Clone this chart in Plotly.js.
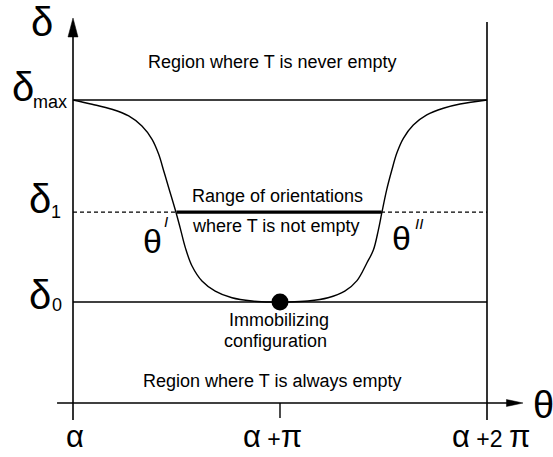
<!DOCTYPE html>
<html>
<head>
<meta charset="utf-8">
<script src="https://cdn.plot.ly/plotly-3.0.1.min.js"></script>
<style>
  html, body { margin: 0; padding: 0; background: #ffffff; }
  #chart { width: 553px; height: 457px; }
</style>
</head>
<body>
<div id="chart"></div>
<script>
// Orientation axis in units of pi (alpha = 0, alpha + 2pi = 2);
// delta normalised so that delta_0 = 0 and delta_max = 1.
const thetaPi = [0, 0.092, 0.188, 0.269, 0.333, 0.382, 0.414, 0.438, 0.462, 0.498,
                 0.518, 0.543, 0.575, 0.623, 0.687, 0.768, 0.865, 0.961, 1.0,
                 1.039, 1.135, 1.232, 1.313, 1.372, 1.419, 1.451, 1.475, 1.492,
                 1.515, 1.540, 1.564, 1.596, 1.644, 1.709, 1.789, 1.870, 2.0];
const deltaCurve = [1.0, 0.979, 0.954, 0.921, 0.871, 0.805, 0.731, 0.650, 0.567, 0.442,
                    0.366, 0.268, 0.178, 0.104, 0.054, 0.021, 0.005, 0.0, 0.0,
                    0.0, 0.005, 0.021, 0.054, 0.106, 0.192, 0.257, 0.356, 0.442,
                    0.554, 0.652, 0.736, 0.810, 0.876, 0.926, 0.959, 0.980, 1.0];

// Reference levels of delta
const levelNames = ["0", "1", "max"];
const levelValues = [0, 0.445, 1];

// Orientations bounding the range where T is not empty
const thetaBounds = [0.50, 1.49];
const thetaBoundNames = ["I", "II"];

// Immobilizing configuration (minimum of the curve)
const immobTheta = [1.0];
const immobDelta = [0.0];

// Orientation tick labels
const tickVals = [0, 1, 2];
const tickLabels = ["α", "α +π", "α +2 π"];

const BLACK = "#000000";
const GREEK = 'Liberation Sans, Arial, sans-serif';
const TEXT_SIZE = 18;

// Greek letters drawn large, the rest at a slightly larger text size
function tickHtml(label) {
  return label.split("").map(function (ch) {
    if (/[α-ωΑ-Ω]/.test(ch)) return '<span style="font-size:31px">' + ch + '</span>';
    return '<span style="font-size:23px">' + ch + '</span>';
  }).join("");
}

const xLo = 0, xHi = 2;
const yAxis = -0.5;       // level of the orientation axis
const yBottom = -0.584;   // lower end of the vertical guides
const yTop = 1.406;       // tip of the delta arrow
const yRightTop = 1.386;  // top of the right-hand guide
const xArrow = 2.174;     // tip of the theta arrow

const shapes = [];
function seg(x0, y0, x1, y1, width, dash) {
  shapes.push({type: "line", xref: "x", yref: "y", x0: x0, y0: y0, x1: x1, y1: y1,
               line: {color: BLACK, width: width, dash: dash || "solid"}});
}

// axes
seg(xLo, yBottom, xLo, 1.317, 1.6);
seg(-0.077, yAxis, 2.097, yAxis, 1.6);
seg(xHi, yBottom, xHi, yRightTop, 1.6);
seg(tickVals[1], yAxis, tickVals[1], -0.574, 1.4);
// arrow heads
shapes.push({type: "path", xref: "x", yref: "y",
  path: "M " + xLo + " " + yTop + " L " + (xLo - 0.0242) + " 1.312 L " + (xLo + 0.0242) + " 1.312 Z",
  fillcolor: BLACK, line: {color: BLACK, width: 0.5}});
shapes.push({type: "path", xref: "x", yref: "y",
  path: "M " + xArrow + " " + yAxis + " L 2.094 " + (yAxis + 0.0173) + " L 2.094 " + (yAxis - 0.0173) + " Z",
  fillcolor: BLACK, line: {color: BLACK, width: 0.5}});

// delta levels
seg(xLo, levelValues[0], xHi, levelValues[0], 1.3);
seg(xLo, levelValues[1], xHi, levelValues[1], 1.1, "4px,3px");
seg(xLo, levelValues[2], xHi, levelValues[2], 1.3);
// range of orientations where T is not empty
seg(thetaBounds[0], levelValues[1], thetaBounds[1], levelValues[1], 3.4);

const traces = [
  {x: thetaPi, y: deltaCurve, type: "scatter", mode: "lines",
   line: {color: BLACK, width: 1.4, shape: "spline", smoothing: 1},
   hoverinfo: "skip", showlegend: false},
  {x: immobTheta, y: immobDelta, type: "scatter", mode: "markers",
   marker: {color: BLACK, size: 17}, hoverinfo: "skip", showlegend: false}
];

function note(x, y, text, size, extra) {
  const a = {x: x, y: y, xref: "x", yref: "y", text: text, showarrow: false,
             xanchor: "center", yanchor: "middle",
             font: {size: size, color: BLACK}};
  return Object.assign(a, extra || {});
}
function greek(x, y, ch, size) {
  return note(x, y, ch, size, {font: {size: size, color: BLACK, family: GREEK}});
}

const annotations = [
  note(0.961, 1.188, "Region where T is never empty", TEXT_SIZE),
  note(0.988, 0.525, "Range of orientations", TEXT_SIZE),
  note(0.976, 0.376, "where T is not empty", TEXT_SIZE),
  note(0.995, -0.089, "Immobilizing", TEXT_SIZE),
  note(0.976, -0.193, "configuration", TEXT_SIZE),
  note(0.961, -0.391, "Region where T is always empty", TEXT_SIZE),

  // delta axis title and levels
  greek(-0.150, 1.385, "δ", 40),
  greek(-0.2415, 1.065, "δ", 40),
  note(-0.111, 0.990, levelNames[2], TEXT_SIZE),
  greek(-0.159, levelValues[1] + 0.066, "δ", 40),
  note(-0.080, levelValues[1] - 0.001, levelNames[1], TEXT_SIZE),
  greek(-0.159, levelValues[0] + 0.036, "δ", 40),
  note(-0.077, levelValues[0] - 0.015, levelNames[0], TEXT_SIZE),

  // theta bounds
  greek(thetaBounds[0] - 0.118, 0.300, "θ", 34),
  note(thetaBounds[0] - 0.051, 0.401, "<i>" + thetaBoundNames[0] + "</i>", 15),
  greek(thetaBounds[1] + 0.095, 0.315, "θ", 34),
  note(thetaBounds[1] + 0.181, 0.391, "<i>" + thetaBoundNames[1] + "</i>", 15),

  // theta axis title
  greek(2.275, -0.512, "θ", 38)
];

// orientation tick labels, sitting on the bottom edge
const tickShift = [1.5, -7.5, 4];
tickVals.forEach(function (v, i) {
  annotations.push(note(v, 0, tickHtml(tickLabels[i]), TEXT_SIZE,
    {yref: "paper", yanchor: "bottom", xshift: tickShift[i], yshift: 1}));
});

const layout = {
  width: 553, height: 457,
  margin: {l: 0, r: 0, t: 0, b: 0},
  paper_bgcolor: "#ffffff", plot_bgcolor: "#ffffff",
  font: {family: "Liberation Sans, Arial, sans-serif", color: BLACK},
  xaxis: {range: [-0.35266, 2.31884], visible: false, fixedrange: true},
  yaxis: {range: [-0.76733, 1.49505], visible: false, fixedrange: true},
  shapes: shapes,
  annotations: annotations,
  showlegend: false
};

Plotly.newPlot("chart", traces, layout, {staticPlot: true, displayModeBar: false});
</script>
</body>
</html>
